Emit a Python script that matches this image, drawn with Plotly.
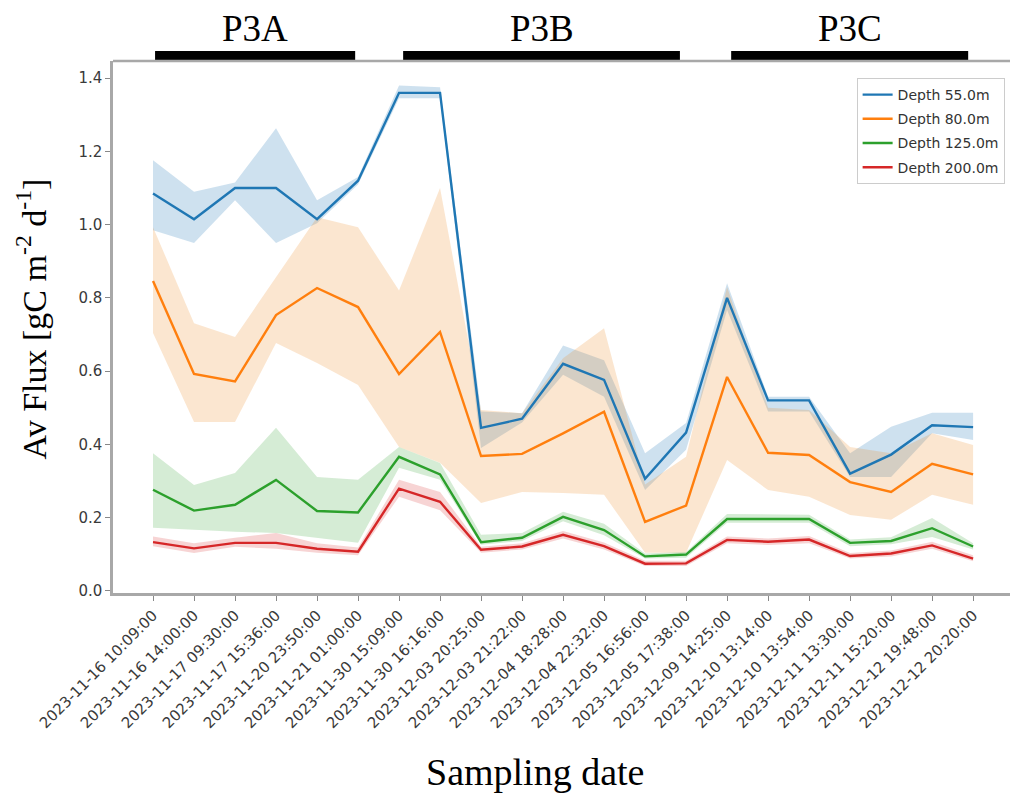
import plotly.graph_objects as go

# Sampling times (x categories)
dates = [
    "2023-11-16 10:09:00", "2023-11-16 14:00:00", "2023-11-17 09:30:00",
    "2023-11-17 15:36:00", "2023-11-20 23:50:00", "2023-11-21 01:00:00",
    "2023-11-30 15:09:00", "2023-11-30 16:16:00", "2023-12-03 20:25:00",
    "2023-12-03 21:22:00", "2023-12-04 18:28:00", "2023-12-04 22:32:00",
    "2023-12-05 16:56:00", "2023-12-05 17:38:00", "2023-12-09 14:25:00",
    "2023-12-10 13:14:00", "2023-12-10 13:54:00", "2023-12-11 13:30:00",
    "2023-12-11 15:20:00", "2023-12-12 19:48:00", "2023-12-12 20:20:00",
]

# Mean flux per depth (gC m-2 d-1)
flux_55 = [1.085, 1.015, 1.10, 1.10, 1.015, 1.12, 1.36, 1.36, 0.445, 0.47, 0.62,
           0.576, 0.306, 0.432, 0.80, 0.52, 0.52, 0.32, 0.372, 0.452, 0.447]
flux_80 = [0.846, 0.592, 0.572, 0.753, 0.827, 0.775, 0.592, 0.707, 0.368, 0.374, 0.43,
           0.489, 0.188, 0.233, 0.584, 0.377, 0.371, 0.297, 0.27, 0.347, 0.318]
flux_125 = [0.276, 0.219, 0.235, 0.303, 0.218, 0.214, 0.366, 0.318, 0.133, 0.145, 0.202,
            0.166, 0.094, 0.099, 0.196, 0.196, 0.196, 0.131, 0.136, 0.171, 0.121]
flux_200 = [0.133, 0.116, 0.131, 0.131, 0.115, 0.107, 0.279, 0.243, 0.112, 0.121, 0.153,
            0.122, 0.074, 0.075, 0.139, 0.134, 0.14, 0.095, 0.102, 0.124, 0.088]

# Spread (lower / upper envelope) per depth
low_55 = [0.985, 0.95, 1.067, 0.95, 1.004, 1.11, 1.345, 1.345, 0.39, 0.46, 0.59,
          0.53, 0.275, 0.385, 0.767, 0.49, 0.49, 0.311, 0.311, 0.43, 0.412]
up_55 = [1.176, 1.09, 1.115, 1.263, 1.067, 1.13, 1.38, 1.375, 0.49, 0.485, 0.67,
         0.63, 0.376, 0.458, 0.84, 0.53, 0.53, 0.376, 0.448, 0.486, 0.486]
low_80 = [0.704, 0.461, 0.461, 0.677, 0.622, 0.562, 0.393, 0.35, 0.24, 0.27, 0.267,
          0.262, 0.104, 0.104, 0.357, 0.275, 0.257, 0.207, 0.194, 0.262, 0.235]
up_80 = [0.993, 0.731, 0.693, 0.857, 1.02, 0.993, 0.82, 1.10, 0.494, 0.485, 0.635,
         0.717, 0.29, 0.366, 0.83, 0.50, 0.494, 0.393, 0.376, 0.43, 0.398]
low_125 = [0.172, 0.166, 0.161, 0.158, 0.145, 0.131, 0.336, 0.303, 0.126, 0.136, 0.19,
           0.152, 0.088, 0.09, 0.186, 0.186, 0.186, 0.122, 0.127, 0.147, 0.113]
up_125 = [0.376, 0.289, 0.322, 0.445, 0.311, 0.303, 0.393, 0.349, 0.153, 0.158, 0.216,
          0.183, 0.102, 0.106, 0.21, 0.208, 0.208, 0.14, 0.146, 0.199, 0.13]
low_200 = [0.122, 0.103, 0.12, 0.115, 0.104, 0.097, 0.257, 0.22, 0.104, 0.113, 0.143,
           0.113, 0.068, 0.068, 0.13, 0.125, 0.13, 0.088, 0.094, 0.115, 0.081]
up_200 = [0.148, 0.13, 0.145, 0.158, 0.13, 0.118, 0.303, 0.27, 0.12, 0.13, 0.163,
          0.132, 0.082, 0.082, 0.148, 0.143, 0.15, 0.103, 0.11, 0.134, 0.097]

depth_names = ["Depth 55.0m", "Depth 80.0m", "Depth 125.0m", "Depth 200.0m"]
colors = ["#1f77b4", "#ff7f0e", "#2ca02c", "#d62728"]
fills = ["rgba(31,119,180,0.22)", "rgba(235,140,40,0.22)",
         "rgba(44,160,44,0.2)", "rgba(214,39,40,0.2)"]

# Cruise phases: (label, start position, end position) on the sample axis
phases = [("P3A", 0.05, 4.93), ("P3B", 6.1, 12.85), ("P3C", 14.1, 19.88)]

series = [
    (flux_55, low_55, up_55),
    (flux_80, low_80, up_80),
    (flux_125, low_125, up_125),
    (flux_200, low_200, up_200),
]

SERIF = "Liberation Serif, Times New Roman, serif"
SANS = "DejaVu Sans, sans-serif"

fig = go.Figure()
idx = list(range(len(dates)))

# Shaded envelopes first so lines sit on top
for (mean, lo, hi), fc in zip(series, fills):
    fig.add_trace(go.Scatter(
        x=idx + idx[::-1], y=hi + lo[::-1], fill="toself", fillcolor=fc,
        line=dict(width=0), mode="lines", hoverinfo="skip", showlegend=False,
    ))

for (mean, lo, hi), name, c in zip(series, depth_names, colors):
    fig.add_trace(go.Scatter(
        x=idx, y=mean, mode="lines", name=name, legendgroup=name,
        line=dict(color=c, width=2.4),
    ))

# Phase bars and labels above the plot area
for label, x0, x1 in phases:
    fig.add_shape(type="rect", xref="x", yref="paper", x0=x0, x1=x1,
                  y0=1.002, y1=1.019, fillcolor="black", line=dict(width=0))
    fig.add_annotation(x=(x0 + x1) / 2, xref="x", y=1.061, yref="paper",
                       text=label, showarrow=False, yanchor="middle",
                       font=dict(family=SERIF, size=37, color="black"))

# Top spine
fig.add_shape(type="line", xref="paper", yref="paper", x0=0, x1=1, y0=1, y1=1,
              line=dict(color="#a8a8a8", width=2.5))

# Axis titles
fig.add_annotation(text="Sampling date", xref="paper", yref="paper",
                   x=0.47, y=-0.336, yanchor="middle", showarrow=False,
                   font=dict(family=SERIF, size=38, color="black"))
fig.add_annotation(text="Av Flux [gC m<sup>-2</sup> d<sup>-1</sup>]",
                   xref="paper", yref="paper", x=-0.091, y=0.515,
                   xanchor="center", yanchor="middle", textangle=-90,
                   showarrow=False,
                   font=dict(family=SERIF, size=34, color="black"))

tick_font = dict(family=SANS, size=15, color="#3a3a3a")
fig.update_layout(
    width=1010, height=796,
    margin=dict(l=113, r=0, t=61, b=203),
    paper_bgcolor="white", plot_bgcolor="white",
    xaxis=dict(
        range=[-0.976, 20.9], tickmode="array", tickvals=idx, ticktext=dates,
        tickangle=-45, tickfont=tick_font, ticks="outside", ticklen=5,
        tickcolor="#888888", showgrid=False, zeroline=False,
        showline=True, linecolor="#a8a8a8", linewidth=2.5,
    ),
    yaxis=dict(
        range=[-0.006, 1.447], tickvals=[0, 0.2, 0.4, 0.6, 0.8, 1.0, 1.2, 1.4],
        tickformat=".1f", tickfont=tick_font, ticks="outside", ticklen=5,
        tickcolor="#888888", showgrid=False, zeroline=False,
        showline=True, linecolor="#a8a8a8", linewidth=2.5,
    ),
    legend=dict(
        x=0.994, y=0.968, xanchor="right", yanchor="top",
        bgcolor="rgba(255,255,255,0.9)", bordercolor="#cccccc", borderwidth=1,
        font=dict(family=SANS, size=14, color="#333333"),
        tracegroupgap=3, entrywidth=172,
    ),
)

fig.write_html("out.html")
